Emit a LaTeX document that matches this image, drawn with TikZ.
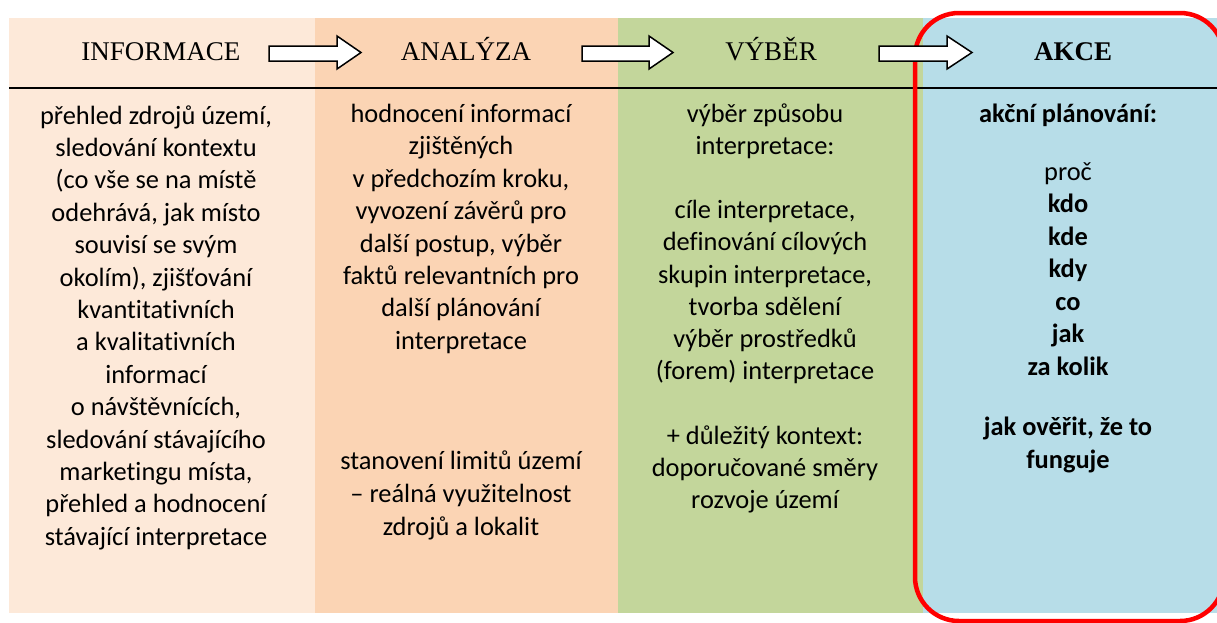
\documentclass[tikz,border=0pt]{standalone}
\usepackage{fontspec}
\setmainfont{Carlito}[RawFeature={-liga;-dlig;-calt;-clig}]
\newfontfamily\headfont{Liberation Serif}
\definecolor{cinfo}{HTML}{FDE9D9}
\definecolor{canal}{HTML}{FBD4B4}
\definecolor{cvyb}{HTML}{C3D69B}
\definecolor{cakce}{HTML}{B7DDE8}
\definecolor{redframe}{HTML}{FF0000}
\tikzset{
  bodytext/.style={inner sep=0pt, anchor=base, font=\fontsize{26.4}{32.4}\selectfont},
  boldtext/.style={bodytext, font=\fontsize{26.4}{32.4}\selectfont\bfseries},
  headtext/.style={inner sep=0pt, anchor=base, font=\headfont\fontsize{27}{32}\selectfont},
  blockarrow/.style={fill=white, draw=black, line width=1.5pt, line join=miter},
}
\begin{document}
\begin{tikzpicture}[x=1pt,y=-1pt]
\useasboundingbox (0,0) rectangle (1217,622);
\clip (0,0) rectangle (1217,622);
% column backgrounds
\fill[cinfo] (9,18) rectangle (315,613);
\fill[canal] (315,18) rectangle (618,613);
\fill[cvyb] (618,18) rectangle (923,613);
\fill[cakce] (923,18) rectangle (1217,613);
% header rule
\draw[line width=1.6pt] (9,88) -- (1217,88);
% red frame
\draw[redframe, line width=4.5pt, rounded corners=44pt] (915,13) rectangle (1224,621);
% headers
\node[headtext] (hinfo) at (161,60) {INFORMACE};
\node[headtext] (hanal) at (466,60) {ANALÝZA};
\node[headtext] (hvyb) at (771,60) {VÝBĚR};
\node[headtext, font=\headfont\fontsize{27}{32}\selectfont\bfseries] (hakce) at (1073,60) {AKCE};
% block arrows
\foreach \xa/\xh/\xt in {269/337/361, 582/649/673, 879/947/972}{
  \draw[blockarrow] (\xa,46) -- (\xh,46) -- (\xh,36) -- (\xt,52.5) -- (\xh,69) -- (\xh,61) -- (\xa,61) -- cycle;
}
% column 1
\foreach \t [count=\i] in {{přehled zdrojů území,},{sledování kontextu},{(co vše se na místě},{odehrává, jak místo},{souvisí se svým},{okolím), zjišťování},{kvantitativních},{a kvalitativních},{informací},{o návštěvnících,},{sledování stávajícího},{marketingu místa,},{přehled a hodnocení},{stávající interpretace}}{
  \node[bodytext] (ca\i) at (156,{124+(\i-1)*32.4}) {\t};
}
% column 2
\foreach \t [count=\i] in {{hodnocení informací},{zjištěných},{v předchozím kroku,},{vyvození závěrů pro},{další postup, výběr},{faktů relevantních pro},{další plánování},{interpretace}}{
  \node[bodytext] (cb\i) at (461,{122.5+(\i-1)*32.4}) {\t};
}
\foreach \t [count=\i] in {{stanovení limitů území},{– reálná využitelnost},{zdrojů a lokalit}}{
  \node[bodytext] (cbb\i) at (461,{469+(\i-1)*33}) {\t};
}
% column 3
\foreach \t [count=\i] in {{výběr způsobu},{interpretace:},{},{cíle interpretace,},{definování cílových},{skupin interpretace,},{tvorba sdělení},{výběr prostředků},{(forem) interpretace},{},{+ důležitý kontext:},{doporučované směry},{rozvoje území}}{
  \node[bodytext] (cc\i) at (765,{122+(\i-1)*32.2}) {\t};
}
% column 4
\node[boldtext] (cd0) at (1068,122) {akční plánování:};
\node[bodytext] (cd1) at (1068,180) {proč};
\foreach \t [count=\i] in {{kdo},{kde},{kdy},{co},{jak},{za kolik}}{
  \node[boldtext] (cdd\i) at (1068,{212.5+(\i-1)*32.5}) {\t};
}
\node[boldtext] (cde1) at (1068,435) {jak ověřit, že to};
\node[boldtext] (cde2) at (1068,468) {funguje};
\end{tikzpicture}
\end{document}
